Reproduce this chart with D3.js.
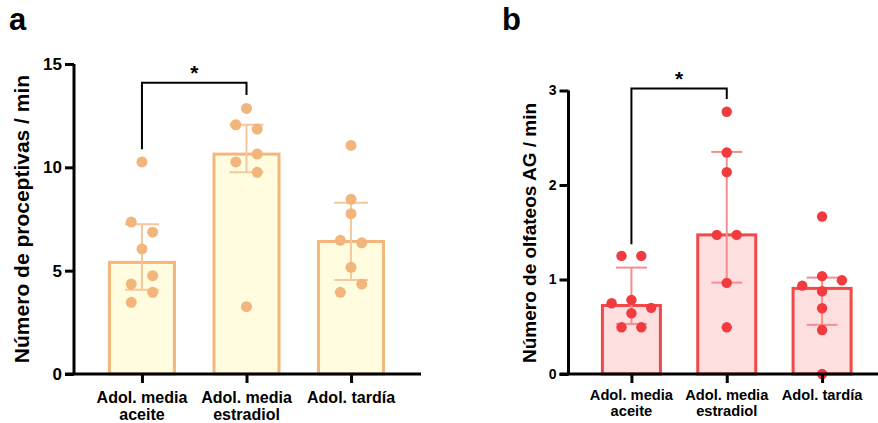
<!DOCTYPE html>
<html>
<head>
<meta charset="utf-8">
<script src="https://cdn.jsdelivr.net/npm/d3@7"></script>
<style>
  body { margin: 0; background: #fff; }
  svg { display: block; }
  text { font-family: "Liberation Sans", Arial, Helvetica, sans-serif; font-weight: bold; fill: #000; }
</style>
</head>
<body>
<svg id="chart" width="878" height="423"></svg>
<script>
// Group labels (one entry per line of each x tick label)
const categories = [["Adol. media", "aceite"], ["Adol. media", "estradiol"], ["Adol. tardía"]];

// Panel a: proceptive behaviours per minute, one value per animal
const proceptivasValues = [
  [10.26, 7.35, 6.86, 6.05, 4.76, 4.35, 3.95, 3.47],
  [12.85, 12.06, 11.85, 10.64, 10.26, 9.76, 3.26],
  [11.06, 8.45, 7.76, 6.47, 6.35, 5.16, 4.35, 3.95]
];
// Scatter column of each animal's dot within its group (swarm slot)
const proceptivasSlots = [
  [0, -1, 1, 0, 1, -1, 1, -1],
  [0, -1, 1, 1, -1, 1, 0],
  [0, 0, 0, -1, 1, 0, 1, -1]
];
const proceptivasMedian = [5.40, 10.64, 6.41];
const proceptivasQ1 = [4.08, 9.76, 4.55];
const proceptivasQ3 = [7.24, 12.06, 8.29];
const proceptivasTicks = [0, 5, 10, 15];

// Panel b: anogenital sniffs per minute
const olfateosValues = [
  [1.25, 1.25, 0.784, 0.749, 0.70, 0.643, 0.494, 0.494],
  [2.775, 2.344, 2.136, 1.472, 1.472, 0.964, 0.494],
  [1.666, 1.035, 0.992, 0.935, 0.876, 0.696, 0.466, 0.0]
];
const olfateosSlots = [
  [-1, 1, 0, -2, 2, 0, -1, 1],
  [0, 0, 0, -1, 1, 0, 0],
  [0, 0, 2, -2, 0, 0, 0, 0]
];
const olfateosMedian = [0.725, 1.472, 0.906];
const olfateosQ1 = [0.53, 0.967, 0.52];
const olfateosQ3 = [1.126, 2.35, 1.02];
const olfateosTicks = [0, 1, 2, 3];

const svg = d3.select("#chart");

function drawPanel(cfg) {
  const g = svg.append("g");
  const x = d3.scalePoint().domain(d3.range(categories.length)).range(cfg.xRange).padding(cfg.xPadding);
  const y = d3.scaleLinear().domain(cfg.yDomain).range(cfg.yRange);
  const axisX = cfg.xRange[0];
  const y0 = y(0);

  // bars (median)
  g.selectAll("rect.bar").data(cfg.median).join("rect")
    .attr("class", "bar")
    .attr("x", (d, i) => x(i) - cfg.barWidth / 2)
    .attr("y", d => y(d))
    .attr("width", cfg.barWidth)
    .attr("height", d => y0 - y(d))
    .attr("fill", cfg.barFill)
    .attr("stroke", cfg.barStroke)
    .attr("stroke-width", 3);

  // interquartile range whiskers
  const err = g.append("g").attr("stroke", cfg.errColor).attr("stroke-width", 2).attr("fill", "none");
  cfg.median.forEach((m, i) => {
    const cx = x(i);
    err.append("line").attr("x1", cx).attr("x2", cx).attr("y1", y(cfg.q1[i])).attr("y2", y(cfg.q3[i]));
    [cfg.q1[i], cfg.q3[i]].forEach(v => {
      err.append("line").attr("x1", cx - cfg.capWidth / 2).attr("x2", cx + cfg.capWidth / 2)
        .attr("y1", y(v)).attr("y2", y(v));
    });
  });

  // individual animals
  cfg.values.forEach((vals, i) => {
    g.append("g").selectAll("circle").data(vals).join("circle")
      .attr("cx", (d, k) => x(i) + cfg.slots[i][k] * cfg.slotSpacing)
      .attr("cy", d => y(d))
      .attr("r", cfg.dotR)
      .attr("fill", cfg.dotColor);
  });

  // y axis
  const yAxis = d3.axisLeft(y).tickValues(cfg.ticks).tickFormat(d3.format("d"))
    .tickSize(cfg.tickLen).tickSizeOuter(0).tickPadding(3);
  const ya = g.append("g").attr("transform", `translate(${axisX},0)`).call(yAxis)
    .attr("font-size", null).attr("font-family", null);
  ya.select(".domain").attr("stroke", "#000").attr("stroke-width", 3)
    .attr("d", `M0,${cfg.yRange[1]}V${y0}`);
  ya.selectAll(".tick line").attr("stroke", "#000").attr("stroke-width", 3);
  ya.selectAll(".tick text").style("font-size", cfg.tickFont + "px").attr("fill", "#000");

  // x axis
  const xAxis = d3.axisBottom(x).tickSize(cfg.tickLen).tickSizeOuter(0).tickFormat("");
  const xa = g.append("g").attr("transform", `translate(0,${y0})`).call(xAxis);
  xa.select(".domain").remove();
  xa.selectAll(".tick line").attr("stroke", "#000").attr("stroke-width", 3);
  g.append("line").attr("x1", axisX - cfg.tickLen).attr("x2", cfg.xAxisEnd)
    .attr("y1", y0).attr("y2", y0).attr("stroke", "#000").attr("stroke-width", 3);

  // category labels
  categories.forEach((lines, i) => {
    const t = g.append("text").attr("text-anchor", "middle").style("font-size", cfg.catFont + "px");
    lines.forEach((ln, k) => {
      t.append("tspan").attr("x", x(i)).attr("y", cfg.catBaseline + k * cfg.catLineGap).text(ln);
    });
  });

  // y axis title
  g.append("text")
    .attr("transform", `translate(${cfg.titleX},${cfg.titleY}) rotate(-90)`)
    .attr("text-anchor", "middle")
    .style("font-size", cfg.titleFont + "px")
    .text(cfg.title);

  // significance bracket
  const b = cfg.bracket;
  const bx1 = x(b.from), bx2 = x(b.to);
  g.append("path")
    .attr("d", `M${bx1},${y(b.leftEnd)}V${y(b.top)}H${bx2}V${y(b.rightEnd)}`)
    .attr("fill", "none").attr("stroke", "#000").attr("stroke-width", 2);
  g.append("text").attr("x", (bx1 + bx2) / 2).attr("y", y(b.top) + cfg.starDy)
    .attr("text-anchor", "middle").style("font-size", "21px").text("*");

  // panel letter
  g.append("text").attr("x", cfg.letterX).attr("y", 30).style("font-size", "31px").text(cfg.letter);
}

drawPanel({
  letter: "a", letterX: 9,
  values: proceptivasValues, slots: proceptivasSlots,
  median: proceptivasMedian, q1: proceptivasQ1, q3: proceptivasQ3, ticks: proceptivasTicks,
  xRange: [74, 419], xPadding: 0.65, xAxisEnd: 421,
  yDomain: [0, 15], yRange: [374, 64],
  barWidth: 65, capWidth: 34, slotSpacing: 10.7, dotR: 5.5,
  barFill: "#FFFCDF", barStroke: "#F3B67B", errColor: "#F7C79B", dotColor: "#F2B57B",
  tickLen: 9, tickFont: 17,
  catFont: 16, catBaseline: 403, catLineGap: 17,
  title: "Número de proceptivas / min", titleX: 29, titleY: 219, titleFont: 21,
  bracket: { from: 0, to: 1, top: 14.09, leftEnd: 10.87, rightEnd: 13.5 },
  starDy: -3
});

drawPanel({
  letter: "b", letterX: 502,
  values: olfateosValues, slots: olfateosSlots,
  median: olfateosMedian, q1: olfateosQ1, q3: olfateosQ3, ticks: olfateosTicks,
  xRange: [568.5, 885], xPadding: 0.66, xAxisEnd: 885,
  yDomain: [0, 3], yRange: [374, 90.5],
  barWidth: 58, capWidth: 31, slotSpacing: 9.9, dotR: 5.2,
  barFill: "#FDDFE0", barStroke: "#F24848", errColor: "#F68E90", dotColor: "#F23B3E",
  tickLen: 9, tickFont: 14,
  catFont: 14.7, catBaseline: 400, catLineGap: 15.5,
  title: "Número de olfateos AG / min", titleX: 536, titleY: 233, titleFont: 19,
  bracket: { from: 0, to: 1, top: 3.02, leftEnd: 1.374, rightEnd: 2.91 },
  starDy: -3
});
</script>
</body>
</html>
